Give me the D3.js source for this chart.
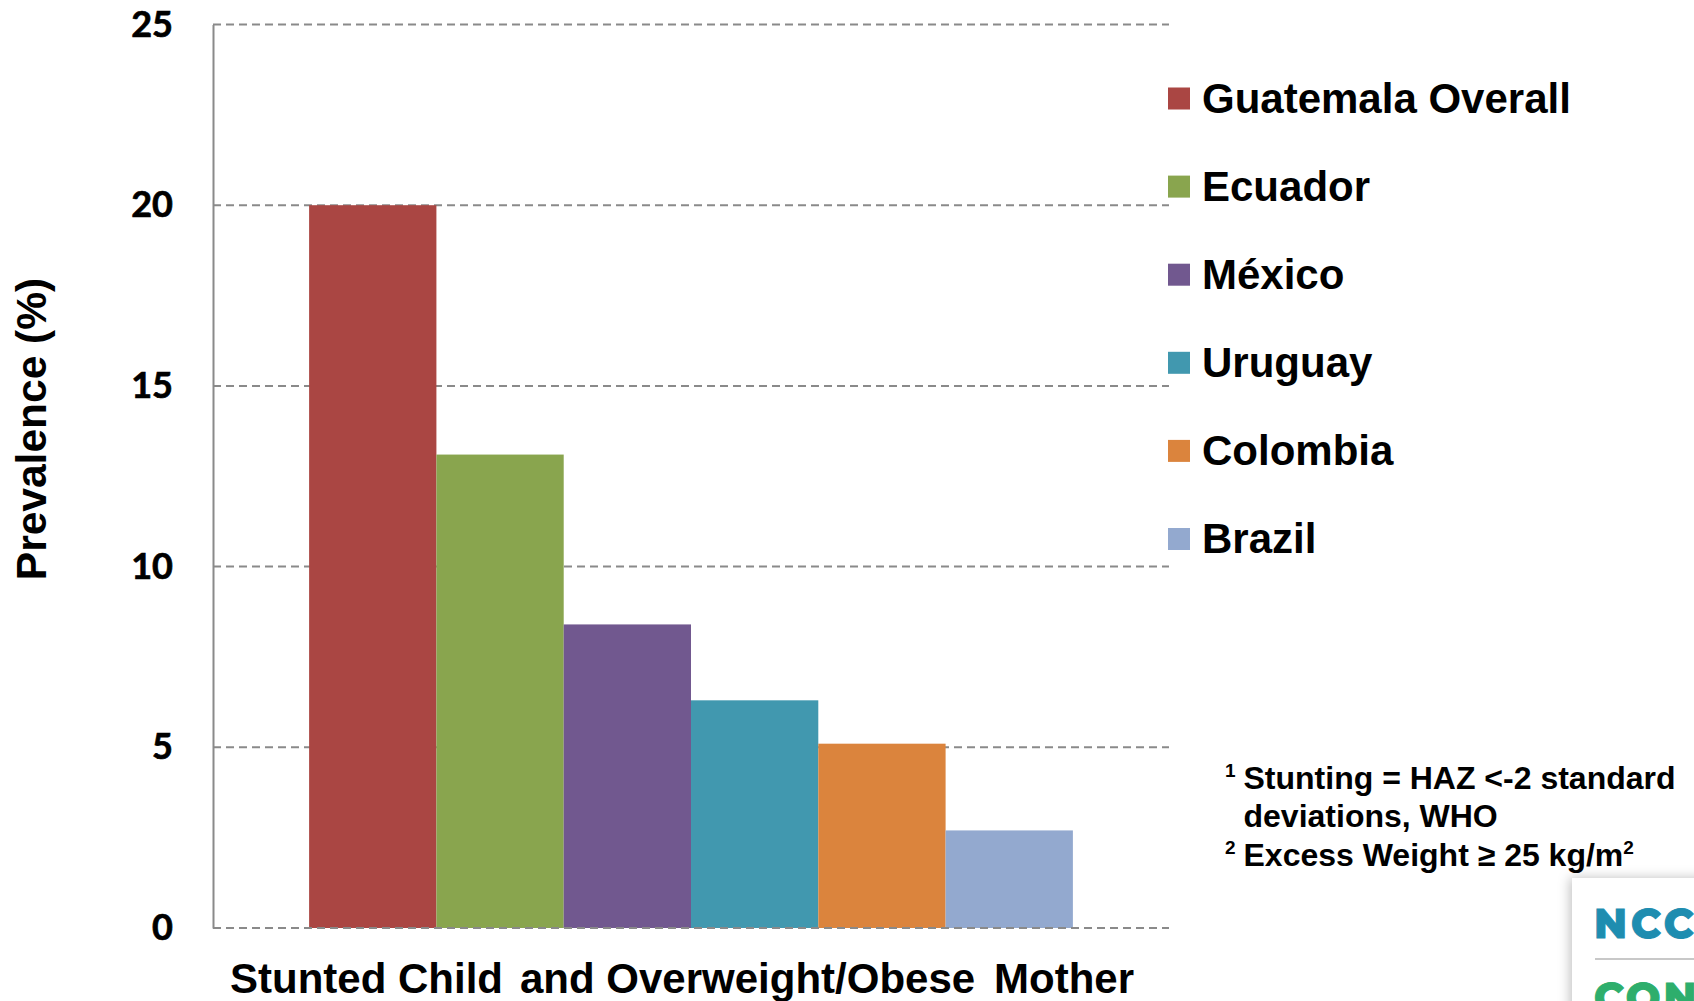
<!DOCTYPE html>
<html>
<head>
<meta charset="utf-8">
<script src="https://cdn.jsdelivr.net/npm/d3@7"></script>
<style>
  html, body { margin: 0; padding: 0; background: #ffffff; }
  svg { display: block; }
  text { white-space: pre; }
</style>
</head>
<body>
<svg id="chart" width="1694" height="1001"></svg>
<script>
// ---- data ----
const series = ["Guatemala Overall", "Ecuador", "México", "Uruguay", "Colombia", "Brazil"];
const values = [20.0, 13.1, 8.4, 6.3, 5.1, 2.7];
const colors = ["#AA4643", "#89A54E", "#71588F", "#4198AF", "#DB843D", "#93A9CF"];
const yTicks = [0, 5, 10, 15, 20, 25];
const xLabelParts = ["Stunted Child", "and Overweight/Obese", "Mother"];
const footnotes = [
  {sup: "1", text: "Stunting = HAZ <-2 standard"},
  {sup: "",  text: "deviations, WHO"},
  {sup: "2", text: "Excess Weight \u2265 25 kg/m", tail: "2"}
];

const svg = d3.select("#chart");
const plot = {left: 213, right: 1169, top: 24.5, bottom: 928};

const y = d3.scaleLinear().domain([0, 25]).range([plot.bottom, plot.top]);
const x = d3.scaleBand().domain(series).range([plot.left, plot.right])
  .paddingInner(0).paddingOuter(0.755);

const defs = svg.append("defs");
const f = defs.append("filter").attr("id", "shadow").attr("x", "-20%").attr("y", "-20%").attr("width", "140%").attr("height", "140%");
f.append("feDropShadow").attr("dx", -2).attr("dy", 0).attr("stdDeviation", 6).attr("flood-color", "#000").attr("flood-opacity", 0.25);

// gridlines (except 0, drawn on top)
const grid = svg.append("g");
grid.selectAll("line").data(yTicks.filter(d => d > 0)).join("line")
  .attr("x1", plot.left).attr("x2", plot.right)
  .attr("y1", d => y(d)).attr("y2", d => y(d))
  .attr("stroke", "#8a8a8a").attr("stroke-width", 2)
  .attr("stroke-dasharray", "8,5");

// bars
svg.append("g").selectAll("rect").data(series).join("rect")
  .attr("x", d => x(d))
  .attr("width", x.bandwidth())
  .attr("y", (d, i) => y(values[i]))
  .attr("height", (d, i) => y(0) - y(values[i]))
  .attr("fill", (d, i) => colors[i]);

// zero line
svg.append("line")
  .attr("x1", plot.left).attr("x2", plot.right)
  .attr("y1", y(0)).attr("y2", y(0))
  .attr("stroke", "#8a8a8a").attr("stroke-width", 2)
  .attr("stroke-dasharray", "8,5");

// y axis
const yAxis = d3.axisLeft(y).tickValues(yTicks).tickSize(0).tickPadding(40).tickFormat(d3.format("d"));
const ya = svg.append("g").attr("transform", `translate(${plot.left},0)`).call(yAxis);
ya.select(".domain").attr("stroke", "#8a8a8a").attr("stroke-width", 2);
ya.selectAll("text")
  .attr("font-family", "Lato, 'Open Sans', sans-serif")
  .attr("font-weight", "bold")
  .attr("font-size", 36)
  .attr("fill", "#000")
  .attr("stroke", "#000").attr("stroke-width", 0.7);

// y title
svg.append("text")
  .attr("transform", "translate(46,429) rotate(-90)")
  .attr("text-anchor", "middle")
  .attr("font-family", "'Liberation Sans', Arial, sans-serif")
  .attr("font-weight", "bold")
  .attr("font-size", 42.5)
  .attr("fill", "#000")
  .text("Prevalence (%)");

// x label (three text boxes)
const xLabelX = [230, 520, 994];
svg.append("g").selectAll("text").data(xLabelParts).join("text")
  .attr("x", (d, i) => xLabelX[i])
  .attr("y", 993)
  .attr("font-family", "'Liberation Sans', Arial, sans-serif")
  .attr("font-weight", "bold")
  .attr("font-size", 42)
  .attr("fill", "#000")
  .text(d => d);

// legend
const lg = svg.append("g").attr("transform", "translate(1168,0)");
const legY = d3.scalePoint().domain(series).range([98.5, 539]);
const items = lg.selectAll("g").data(series).join("g")
  .attr("transform", d => `translate(0,${legY(d)})`);
items.append("rect").attr("x", 0).attr("y", -11).attr("width", 22).attr("height", 22)
  .attr("fill", (d, i) => colors[i]);
items.append("text").attr("x", 34).attr("y", 14)
  .attr("font-family", "'Liberation Sans', Arial, sans-serif")
  .attr("font-weight", "bold")
  .attr("font-size", 42)
  .attr("fill", "#000")
  .text(d => d);

// footnotes
const fnY = [789, 827, 866];
const fn = svg.append("g");
footnotes.forEach((d, i) => {
  if (d.sup) {
    fn.append("text").attr("x", 1225).attr("y", fnY[i] - 12)
      .attr("font-family", "'Liberation Sans', Arial, sans-serif")
      .attr("font-weight", "bold").attr("font-size", 19).attr("fill", "#000")
      .text(d.sup);
  }
  const t = fn.append("text").attr("x", 1243.5).attr("y", fnY[i])
    .attr("font-family", "'Liberation Sans', Arial, sans-serif")
    .attr("font-weight", "bold").attr("font-size", 32).attr("fill", "#000")
    .text(d.text);
  if (d.tail) {
    t.append("tspan").attr("dy", -12).attr("font-size", 19).text(d.tail);
  }
});

// logo card (cropped at the corner, as in the source slide)
const logo = svg.append("g");
logo.append("rect").attr("x", 1572).attr("y", 878).attr("width", 140).attr("height", 140)
  .attr("fill", "#ffffff").attr("filter", "url(#shadow)");
logo.append("text").attr("x", 1594).attr("y", 938)
  .attr("font-family", "Montserrat, 'Open Sans', 'Liberation Sans', sans-serif")
  .attr("font-weight", 800).attr("font-size", 41).attr("fill", "#1E8DB0")
  .attr("letter-spacing", 4)
  .attr("stroke", "#1E8DB0").attr("stroke-width", 1)
  .text("NCCOR");
logo.append("line").attr("x1", 1595).attr("x2", 1694).attr("y1", 959).attr("y2", 959)
  .attr("stroke", "#c8c8c8").attr("stroke-width", 2);
logo.append("text").attr("x", 1594).attr("y", 1012)
  .attr("font-family", "Montserrat, 'Open Sans', 'Liberation Sans', sans-serif")
  .attr("font-weight", 800).attr("font-size", 41).attr("fill", "#2EAE6C")
  .attr("letter-spacing", 3)
  .attr("stroke", "#2EAE6C").attr("stroke-width", 1)
  .text("CONNECT");
</script>
</body>
</html>
